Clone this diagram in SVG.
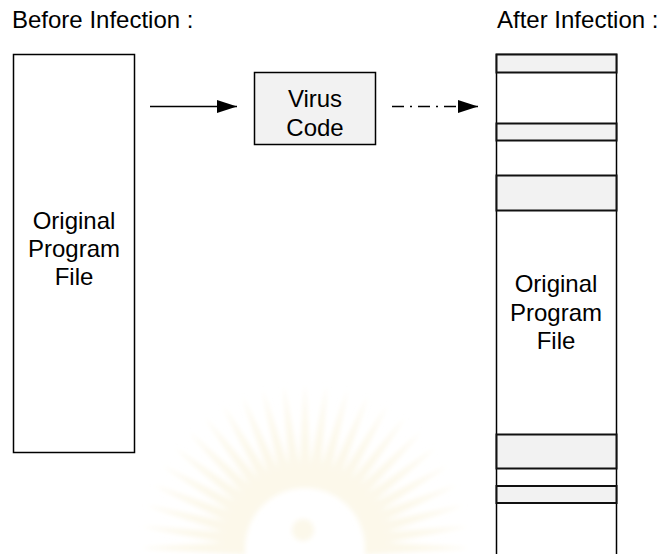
<svg xmlns="http://www.w3.org/2000/svg" width="665" height="554" viewBox="0 0 665 554">
<defs>
<style>
text{font-family:"Liberation Sans",Arial,sans-serif;font-size:24px;fill:#000}
.c{text-anchor:middle}
.box{fill:#fff;stroke:#000;stroke-width:1.5}
.band{fill:#f2f2f2;stroke:#111;stroke-width:2}
.conn{stroke:#000;stroke-width:1.5;fill:none}
.ray{fill:#fcf8ea}
</style>
<marker id="ah" viewBox="0 0 20 13" refX="20" refY="6.5" markerWidth="20" markerHeight="13" markerUnits="userSpaceOnUse" orient="auto"><path d="M0,0 L20,6.5 L0,13 z" fill="#000"/></marker>
<filter id="blur"><feGaussianBlur stdDeviation="2.5"/></filter>
</defs>
<rect width="665" height="554" fill="#fff"/>
<g id="watermark" filter="url(#blur)">
<g transform="translate(305,548)" class="ray">
<path d="M-7,-60 L0,-165 L7,-60 z" transform="rotate(-90)"/>
<path d="M-7,-60 L0,-165 L7,-60 z" transform="rotate(-82.5)"/>
<path d="M-7,-60 L0,-165 L7,-60 z" transform="rotate(-75)"/>
<path d="M-7,-60 L0,-165 L7,-60 z" transform="rotate(-67.5)"/>
<path d="M-7,-60 L0,-165 L7,-60 z" transform="rotate(-60)"/>
<path d="M-7,-60 L0,-165 L7,-60 z" transform="rotate(-52.5)"/>
<path d="M-7,-60 L0,-165 L7,-60 z" transform="rotate(-45)"/>
<path d="M-7,-60 L0,-165 L7,-60 z" transform="rotate(-37.5)"/>
<path d="M-7,-60 L0,-165 L7,-60 z" transform="rotate(-30)"/>
<path d="M-7,-60 L0,-165 L7,-60 z" transform="rotate(-22.5)"/>
<path d="M-7,-60 L0,-165 L7,-60 z" transform="rotate(-15)"/>
<path d="M-7,-60 L0,-165 L7,-60 z" transform="rotate(-7.5)"/>
<path d="M-7,-60 L0,-165 L7,-60 z" transform="rotate(0)"/>
<path d="M-7,-60 L0,-165 L7,-60 z" transform="rotate(7.5)"/>
<path d="M-7,-60 L0,-165 L7,-60 z" transform="rotate(15)"/>
<path d="M-7,-60 L0,-165 L7,-60 z" transform="rotate(22.5)"/>
<path d="M-7,-60 L0,-165 L7,-60 z" transform="rotate(30)"/>
<path d="M-7,-60 L0,-165 L7,-60 z" transform="rotate(37.5)"/>
<path d="M-7,-60 L0,-165 L7,-60 z" transform="rotate(45)"/>
<path d="M-7,-60 L0,-165 L7,-60 z" transform="rotate(52.5)"/>
<path d="M-7,-60 L0,-165 L7,-60 z" transform="rotate(60)"/>
<path d="M-7,-60 L0,-165 L7,-60 z" transform="rotate(67.5)"/>
<path d="M-7,-60 L0,-165 L7,-60 z" transform="rotate(75)"/>
<path d="M-7,-60 L0,-165 L7,-60 z" transform="rotate(82.5)"/>
<path d="M-7,-60 L0,-165 L7,-60 z" transform="rotate(90)"/>
<circle cx="-2" cy="-18" r="11"/>
</g>
</g>
<text x="12" y="28">Before Infection :</text>
<text x="497" y="28">After Infection :</text>
<g id="original">
<rect class="box" x="13.5" y="54.5" width="121" height="398"/>
<text class="c" x="74" y="229">Original</text>
<text class="c" x="74" y="257">Program</text>
<text class="c" x="74" y="285">File</text>
</g>
<g id="virus">
<rect class="band" style="stroke-width:1.5;stroke:#000" x="254.5" y="72.5" width="121" height="72"/>
<text class="c" x="315" y="107">Virus</text>
<text class="c" x="315" y="136">Code</text>
</g>
<g id="infected">
<path class="box" d="M496.5,554 V54.5 H616.5 V554"/>
<rect class="band" x="496.5" y="54.5" width="120" height="18"/>
<rect class="band" x="496.5" y="123.5" width="120" height="17"/>
<rect class="band" x="496.5" y="175.5" width="120" height="35"/>
<rect class="band" x="496.5" y="434.5" width="120" height="34"/>
<rect class="band" x="496.5" y="486" width="120" height="17"/>
<text class="c" x="556" y="292">Original</text>
<text class="c" x="556" y="321">Program</text>
<text class="c" x="556" y="349">File</text>
</g>
<g id="connectors">
<line class="conn" x1="150" y1="106.5" x2="237" y2="106.5" marker-end="url(#ah)"/>
<line class="conn" x1="392" y1="106.5" x2="478" y2="106.5" stroke-dasharray="12,6,2,6" marker-end="url(#ah)"/>
</g>
</svg>
